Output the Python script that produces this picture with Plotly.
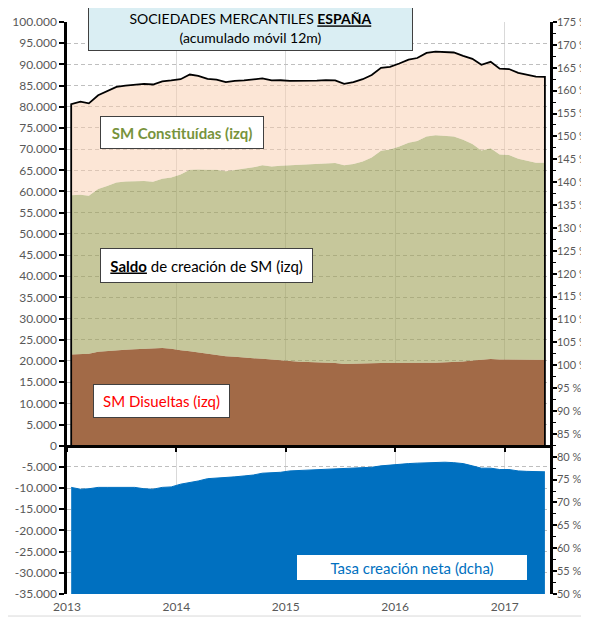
import plotly.graph_objects as go

# ---------------- data ----------------
months = [f"{2013 + m // 12}-{m % 12 + 1:02d}-15" for m in range(53)]  # Jan 2013 .. May 2017

constituidas = [80600, 81200, 80800, 82700, 83600, 84700, 85000, 85200, 85400, 85250, 86000, 86200, 86500,
                87600, 87300, 86600, 86400, 85800, 86100, 86200, 86400, 86700, 86200, 86250,
                86100, 86100, 86200, 86150, 86300, 86200, 85400, 85800, 86500, 87500, 89200, 89400,
                90200, 91100, 91500, 92700, 93000, 92900, 92800, 92000, 91300, 89900, 90600, 89000,
                88900, 88000, 87600, 87100, 87050]

disueltas = [21500, 21600, 21700, 22200, 22400, 22600, 22650, 22750, 22850, 22950, 23050, 22900, 22500,
             22300, 22000, 21600, 21300, 21100, 21000, 20900, 20650, 20500, 20300, 20150,
             19950, 19800, 19750, 19700, 19650, 19500, 19300, 19300, 19400, 19450, 19500, 19550,
             19550, 19550, 19580, 19600, 19600, 19650, 19750, 19850, 20100, 20300, 20450, 20350,
             20300, 20300, 20300, 20300, 20300]

saldo = [59100, 59200, 59000, 60600, 61300, 62100, 62350, 62450, 62500, 62300, 63000, 63300, 64000,
         65100, 65200, 65100, 65100, 64800, 65100, 65300, 65700, 66200, 65900, 66100,
         66200, 66300, 66450, 66450, 66600, 66700, 66200, 66500, 67100, 68000, 69600, 69900,
         70600, 71500, 71900, 73000, 73300, 73200, 73000, 72200, 71200, 69700, 70200, 68700,
         68600, 67700, 67300, 66800, 66800]

tasa = [73.3, 72.9, 73.0, 73.3, 73.3, 73.3, 73.4, 73.3, 73.0, 72.9, 73.3, 73.4, 74.0,
        74.3, 74.7, 75.2, 75.3, 75.5, 75.6, 75.8, 76.0, 76.4, 76.5, 76.6,
        76.9, 77.0, 77.1, 77.1, 77.2, 77.4, 77.5, 77.5, 77.6, 77.7, 78.0, 78.2,
        78.3, 78.5, 78.6, 78.7, 78.8, 78.8, 78.7, 78.5, 78.0, 77.5, 77.5, 77.2,
        77.2, 76.9, 76.8, 76.7, 76.7]

year_ticks = ["2013-01-01", "2014-01-01", "2015-01-01", "2016-01-01", "2017-01-01"]
year_labels = ["2013", "2014", "2015", "2016", "2017"]
x_range = ["2013-01-01", "2017-06-01"]

left_vals = list(range(-35000, 100001, 5000))
left_text = [f"{v:,}".replace(",", ".") for v in left_vals]
right_vals = list(range(50, 176, 5))
right_text = [f"{v} %" for v in right_vals]
left_range = [-35000, 100000]
right_range = [50, 175]

# ---------------- styles ----------------
FONT = "Lato"
GREY_TXT = "#595959"
BROWN = "#A26A47"
GREEN = "rgba(160,162,88,0.6)"
PEACH = "rgba(249,205,173,0.5)"
BLUE = "#0070C0"

fig = go.Figure()

fig.add_trace(go.Scatter(x=months, y=disueltas, mode="lines", line=dict(width=0, color=BROWN),
                         fill="tozeroy", fillcolor=BROWN, showlegend=False, hoverinfo="skip"))
fig.add_trace(go.Scatter(x=months, y=saldo, mode="lines", line=dict(width=0, color=GREEN),
                         fill="tonexty", fillcolor=GREEN, showlegend=False, hoverinfo="skip"))
fig.add_trace(go.Scatter(x=months, y=constituidas, mode="lines", line=dict(width=0, color=PEACH),
                         fill="tonexty", fillcolor=PEACH, showlegend=False, hoverinfo="skip"))
fig.add_trace(go.Scatter(x=months, y=tasa, yaxis="y2", mode="lines", line=dict(width=1, color=BLUE),
                         fill="tozeroy", fillcolor=BLUE, showlegend=False, hoverinfo="skip"))
# outline of the constituidas area (top line + end edges), on the zero-crossing x axis
fig.add_trace(go.Scatter(x=[months[0]] + months + [months[-1]], y=[0] + constituidas + [0],
                         xaxis="x2", mode="lines", line=dict(width=1.8, color="black"),
                         showlegend=False, hoverinfo="skip"))

zero_pos = (0 - left_range[0]) / (left_range[1] - left_range[0])

# the page body adds an 8px offset; sizes/margins compensate for it
fig.update_layout(
    width=581, height=610,
    margin=dict(l=59, r=39, t=14, b=24),
    paper_bgcolor="white", plot_bgcolor="white",
    font=dict(family=FONT, size=12, color=GREY_TXT),
    xaxis=dict(type="date", range=x_range, tickvals=year_ticks, ticktext=year_labels,
               showgrid=True, gridcolor="#D9D9D9", gridwidth=1, showline=False, ticks="",
               zeroline=False, tickfont=dict(size=12, color=GREY_TXT), automargin=False,
               ticklabelstandoff=4),
    xaxis2=dict(type="date", range=x_range, overlaying="x", anchor="free", position=zero_pos,
                tickvals=year_ticks, showticklabels=False, ticks="outside", ticklen=5,
                tickwidth=1.5, tickcolor="black", showline=True, linecolor="black", linewidth=2.5,
                showgrid=False, zeroline=False, automargin=False),
    yaxis=dict(range=left_range, tickvals=left_vals, ticktext=left_text, showgrid=True,
               gridcolor="#BFBFBF", gridwidth=1, griddash="4px,3px", showline=True,
               linecolor="black", linewidth=2.5, ticks="outside", ticklen=5, tickwidth=1.5,
               tickcolor="black", zeroline=False, tickfont=dict(size=12, color=GREY_TXT),
               automargin=False),
    yaxis2=dict(range=right_range, overlaying="y", side="right", anchor="x",
                tickvals=right_vals, ticktext=right_text, showgrid=False, showline=True,
                linecolor="black", linewidth=2.5, ticks="outside", ticklen=4, tickwidth=1.5,
                tickcolor="black", zeroline=False, tickfont=dict(size=11, color=GREY_TXT),
                ticklabelstandoff=-2,
                minor=dict(dtick=2.5, ticks="outside", ticklen=3, tickcolor="black", tickwidth=1),
                automargin=False),
)

# outer chart border
fig.add_shape(type="rect", xref="paper", yref="paper", x0=-0.1325, x1=1.11, y0=-0.0385, y1=1.0297,
              line=dict(color="#D9D9D9", width=1), fillcolor="rgba(0,0,0,0)", layer="below")

def box(text, xc, yc, w, h, color, bg="white", border="#404040", size=15):
    fig.add_annotation(xref="paper", yref="paper", x=xc, y=yc, xanchor="center", yanchor="middle",
                       text=text, showarrow=False, width=w, height=h, align="center",
                       bgcolor=bg, bordercolor=border, borderwidth=1, borderpad=0,
                       font=dict(family=FONT, size=size, color=color))

box("SOCIEDADES MERCANTILES <b><u>ESPAÑA</u></b><br>(acumulado móvil 12m)",
    0.380, 0.9895, 323, 44, "black", bg="#DAEEF3", size=14)
box("<b>SM Constituídas (izq)</b>", 0.238, 0.807, 162, 31, "#77933C", size=15)
box("<b><u>Saldo</u></b> de creación de SM (izq)", 0.288, 0.574, 211, 33, "black", size=15)
box("SM Disueltas (izq)", 0.195, 0.337, 135, 32, "#FF0000", size=15)
box("Tasa creación neta (dcha)", 0.714, 0.046, 228, 23, BLUE, border="white", size=15)

fig.write_html("out.html")
